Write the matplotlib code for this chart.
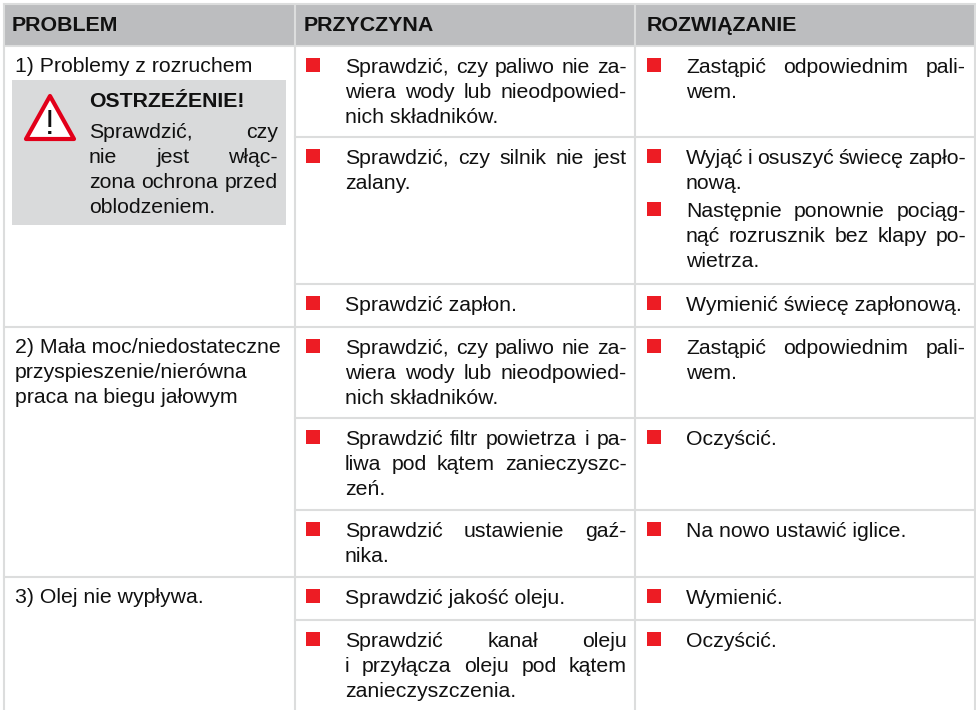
import matplotlib
matplotlib.use("Agg")
import matplotlib.pyplot as plt
from matplotlib.patches import Rectangle, Polygon

plt.rcParams['font.family'] = ['Liberation Sans', 'DejaVu Sans']

#Table content
headers = ["PROBLEM", "PRZYCZYNA", "ROZWIĄZANIE"]

problems = [
    ["1) Problemy z rozruchem"],
    ["2) Mała moc/niedostateczne", "przyspieszenie/nierówna", "praca na biegu jałowym"],
    ["3) Olej nie wypływa."],
]
warning_title = "OSTRZEŹENIE!"
warning_text = ["Sprawdzić, czy", "nie jest włąc-", "zona ochrona przed", "oblodzeniem."]

# each row: group index, causes, solutions (list of paragraphs, paragraph = list of lines)
row_group = [0, 0, 0, 1, 1, 1, 2, 2]
causes = [
    [["Sprawdzić, czy paliwo nie za-", "wiera wody lub nieodpowied-", "nich składników."]],
    [["Sprawdzić, czy silnik nie jest", "zalany."]],
    [["Sprawdzić zapłon."]],
    [["Sprawdzić, czy paliwo nie za-", "wiera wody lub nieodpowied-", "nich składników."]],
    [["Sprawdzić filtr powietrza i pa-", "liwa pod kątem zanieczyszc-", "zeń."]],
    [["Sprawdzić ustawienie gaź-", "nika."]],
    [["Sprawdzić jakość oleju."]],
    [["Sprawdzić kanał oleju", "i przyłącza oleju pod kątem", "zanieczyszczenia."]],
]
solutions = [
    [["Zastąpić odpowiednim pali-", "wem."]],
    [["Wyjąć i osuszyć świecę zapło-", "nową."], ["Następnie ponownie pociąg-", "nąć rozrusznik bez klapy po-", "wietrza."]],
    [["Wymienić świecę zapłonową."]],
    [["Zastąpić odpowiednim pali-", "wem."]],
    [["Oczyścić."]],
    [["Na nowo ustawić iglice."]],
    [["Wymienić."]],
    [["Oczyścić."]],
]
row_tops = [46, 137, 284, 327, 418, 510, 577, 620]

#Layout, in pixels
W, H = 976, 710
col_lines = [4, 295, 635, 975]
text_size = 15.3
line_h = 25
grid_col = "#dcdddd"
red = "#ed1c24"

fig = plt.figure(figsize=(W/100, H/100), dpi=100)
ax = fig.add_axes([0, 0, 1, 1])
ax.set_xlim(0, W)
ax.set_ylim(H, 0)
ax.axis("off")
renderer = fig.canvas.get_renderer()


def word_width(s, **kw):
    t = ax.text(0, 0, s, fontsize=text_size, **kw)
    w = t.get_window_extent(renderer).width
    t.remove()
    return w


def draw_line(s, x0, x1, y, justify=False):
    words = s.split()
    if not justify or len(words) < 2:
        ax.text(x0, y, s, fontsize=text_size, color="#111111", va="baseline")
        return
    widths = [word_width(w) for w in words]
    gap = (x1 - x0 - sum(widths))/(len(words) - 1)
    x = x0
    for w, ww in zip(words, widths):
        ax.text(x, y, w, fontsize=text_size, color="#111111", va="baseline")
        x += ww + gap


def draw_cell(paragraphs, top, bx, x0, x1):
    y = top + 27
    for para in paragraphs:
        ax.add_patch(Rectangle((bx, y - 15), 14, 14, fc=red, ec="none"))
        for i, s in enumerate(para):
            draw_line(s, x0, x1, y, justify=i < len(para) - 1)
            y += line_h
        y += 3


#Header band
ax.add_patch(Rectangle((col_lines[0], 4), col_lines[3] - col_lines[0], 42, fc="#bcbdbf", ec="none"))
for x, s in zip([12, 304, 647], headers):
    ax.text(x, 31, s, fontsize=15.4, fontweight="bold", color="#111111", va="baseline")

#Grid
for x in col_lines:
    ax.plot([x, x], [3, H], color=grid_col, lw=1.5, solid_capstyle="butt")
ax.plot([col_lines[0], col_lines[3]], [3.5, 3.5], color=grid_col, lw=1.5)
for i, top in enumerate(row_tops):
    start = col_lines[0] if i == 0 or row_group[i] != row_group[i - 1] else col_lines[1]
    ax.plot([start, col_lines[3]], [top, top], color=grid_col, lw=1.5)

#Rows
for top, c, s in zip(row_tops, causes, solutions):
    draw_cell(c, top, 306, 345, 627)
    draw_cell(s, top, 647, 686, 966)

#Problem column
group_tops = [row_tops[row_group.index(g)] for g in range(len(problems))]
for top, lines in zip(group_tops, problems):
    for i, s in enumerate(lines):
        ax.text(15, top + 26 + i*line_h, s, fontsize=text_size, color="#111111", va="baseline")

#Warning box
ax.add_patch(Rectangle((12, 80), 274, 145, fc="#d9dadb", ec="none"))
ax.add_patch(Polygon([[50, 96], [26, 139], [74, 139]], closed=True, fc="white", ec="#e2001a", lw=3, joinstyle="round"))
ax.text(50, 134, "!", fontsize=25, color="#111111", ha="center", va="baseline")
ax.text(89, 107, warning_title, fontsize=text_size, fontweight="bold", color="#111111", va="baseline")
for i, s in enumerate(warning_text):
    draw_line(s, 89, 278, 138 + i*line_h, justify=i < len(warning_text) - 1)

fig.savefig("out.png", dpi=100, facecolor="white")
